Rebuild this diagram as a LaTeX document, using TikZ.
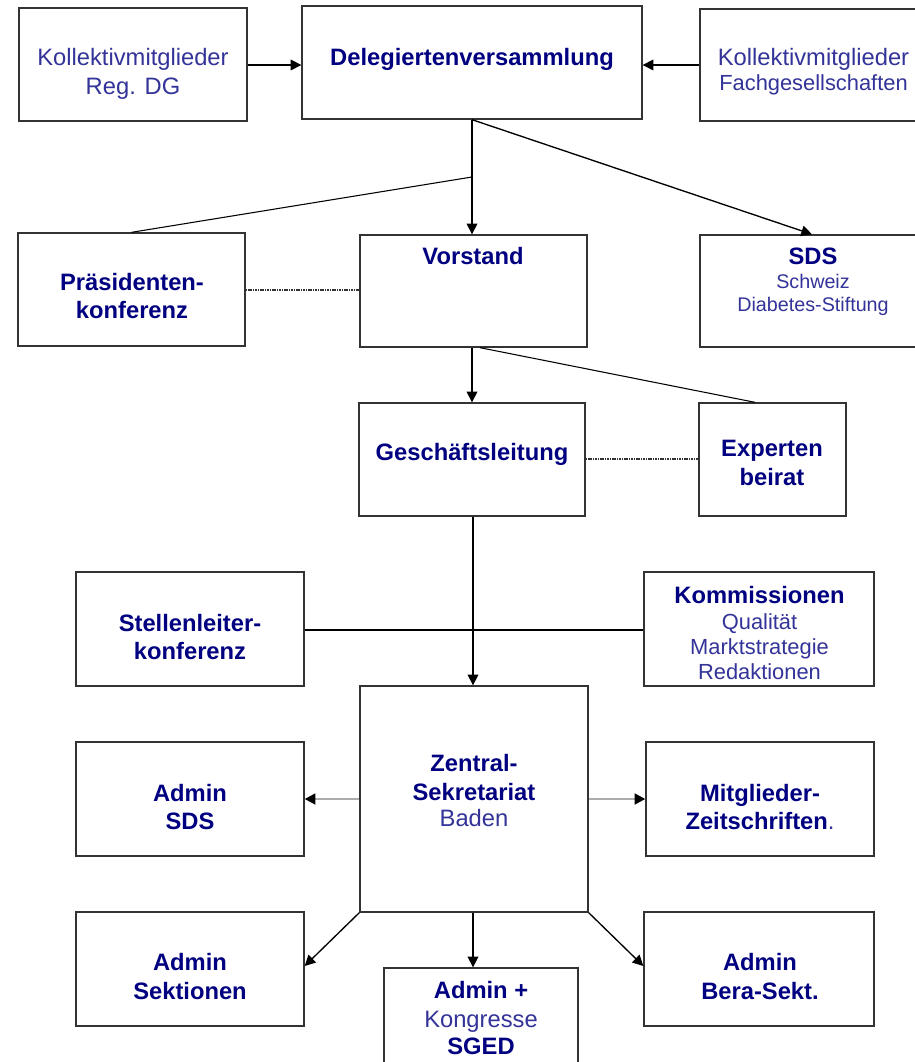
\documentclass[tikz,border=0pt]{standalone}
\usepackage{fontspec}
\setmainfont{Liberation Sans}
\usetikzlibrary{arrows.meta,fit,calc}
\definecolor{navy}{RGB}{0,0,128}
\definecolor{regblue}{RGB}{51,51,153}
\definecolor{boxline}{RGB}{51,51,51}
\begin{document}
\begin{tikzpicture}[x=0.75pt,y=-0.75pt,
  box/.style={draw=boxline,line width=1pt,inner sep=0pt},
  bt/.style={font=\fontsize{17.8}{21}\selectfont\bfseries,text=navy,anchor=base,inner sep=0pt},
  rt/.style={font=\fontsize{17.8}{21}\selectfont,text=regblue,anchor=base,inner sep=0pt},
  rts/.style={rt,font=\fontsize{16.4}{20}\selectfont},
  rtx/.style={rt,font=\fontsize{14.8}{18}\selectfont},
  arr/.style={line width=1pt,-{Triangle[length=8pt,width=8pt]}},
  garr/.style={draw=gray!65,line width=1.8pt,-{Triangle[length=8pt,width=8pt,color=black]}},
  plain/.style={line width=0.8pt},
  dotl/.style={draw=black!80,line width=0.9pt,dash pattern=on 1.2pt off 0.6pt}]
\useasboundingbox (0,0) rectangle (914,1062);
\fill[white] (0,0) rectangle (914,1062);
% boxes
\node[box,fit={(19,8)(247,121)}] (kreg) {};
\node[box,fit={(302,6)(642,119)}] (dv) {};
\node[box,fit={(700,9)(918,121)}] (kfach) {};
\node[box,fit={(18,233)(245,346)}] (pk) {};
\node[box,fit={(360,235)(587,347)}] (vorst) {};
\node[box,fit={(700,235)(918,347)}] (sds) {};
\node[box,fit={(359,403)(585,516)}] (gl) {};
\node[box,fit={(699,403)(846,516)}] (exp) {};
\node[box,fit={(76,572)(304,686)}] (stl) {};
\node[box,fit={(644,572)(874,686)}] (kom) {};
\node[box,fit={(360,686)(588,912)}] (zs) {};
\node[box,fit={(76,742)(304,856)}] (asds) {};
\node[box,fit={(646,742)(874,856)}] (mz) {};
\node[box,fit={(76,912)(304,1026)}] (asek) {};
\node[box,fit={(644,912)(874,1026)}] (abera) {};
\node[box,fit={(384,968)(578,1066)}] (akon) {};
% texts
\node[rt] (kreg1) at (133,66) {Kollektivmitglieder};
\node[rt] (kreg2) at (133,95) {Reg. DG};
\node[bt] (dv1) at (472,66) {Delegiertenversammlung};
\node[rt] (kf1) at (813.5,66) {Kollektivmitglieder};
\node[rts] (kf2) at (813.5,91) {Fachgesellschaften};
\node[bt] (pk1) at (132,291) {Präsidenten-};
\node[bt] (pk2) at (132,318) {konferenz};
\node[bt] (vo1) at (473,265) {Vorstand};
\node[bt] (sds1) at (813,265) {SDS};
\node[rtx] (sds2) at (813,289) {Schweiz};
\node[rtx] (sds3) at (813,311) {Diabetes-Stiftung};
\node[bt] (gl1) at (472,460) {Geschäftsleitung};
\node[bt] (ex1) at (772,456) {Experten};
\node[bt] (ex2) at (772,485) {beirat};
\node[bt] (st1) at (190,631) {Stellenleiter-};
\node[bt] (st2) at (190,659) {konferenz};
\node[bt] (ko1) at (759.5,603) {Kommissionen};
\node[rts] (ko2) at (759.5,629) {Qualität};
\node[rts] (ko3) at (759.5,654) {Marktstrategie};
\node[rts] (ko4) at (759.5,679) {Redaktionen};
\node[bt] (zs1) at (474,771) {Zentral-};
\node[bt] (zs2) at (474,800) {Sekretariat};
\node[rt] (zs3) at (474,826) {Baden};
\node[bt] (as1) at (190,801) {Admin};
\node[bt] (as2) at (190,829) {SDS};
\node[bt] (mz1) at (760,801) {Mitglieder-};
\node[bt] (mz2) at (760,829) {Zeitschriften{\mdseries\color{regblue}.}};
\node[bt] (ase1) at (190,970) {Admin};
\node[bt] (ase2) at (190,999) {Sektionen};
\node[bt] (ab1) at (760,970) {Admin};
\node[bt] (ab2) at (760,999) {Bera-Sekt.};
\node[bt] (ak1) at (481,998) {Admin +};
\node[rt] (ak2) at (481,1027) {Kongresse};
\node[bt] (ak3) at (481,1054) {SGED};
% connectors
\coordinate (m1) at (472,177);
\draw[arr] (kreg.east |- 0,65) -- (dv.west |- 0,65);
\draw[arr] (kfach.west |- 0,65) -- (dv.east |- 0,65);
\draw[arr] (dv.south -| 472,0) -- (vorst.north -| 472,0);
\draw[arr] (dv.south -| 472,0) -- (sds.north -| 812,0);
\draw[plain] (m1) -- (pk.north);
\draw[dotl] (pk.east |- 0,290) -- (vorst.west |- 0,290);
\draw[arr] (vorst.south -| 472,0) -- (gl.north -| 472,0);
\draw[plain] (vorst.south -| 480,0) -- (exp.north -| 755,0);
\draw[dotl] (gl.east |- 0,459) -- (exp.west |- 0,459);
\draw[arr] (gl.south -| 473,0) -- (zs.north -| 473,0);
\draw[plain] (stl.east |- 0,630) -- (kom.west |- 0,630);
\draw[garr] (zs.west |- 0,799) -- (asds.east |- 0,799);
\draw[garr] (zs.east |- 0,799) -- (mz.west |- 0,799);
\draw[arr] (zs.south west) -- (asek.east |- 0,966);
\draw[arr] (zs.south east) -- (abera.west |- 0,966);
\draw[arr] (zs.south -| 473,0) -- (akon.north -| 473,0);
\end{tikzpicture}
\end{document}
